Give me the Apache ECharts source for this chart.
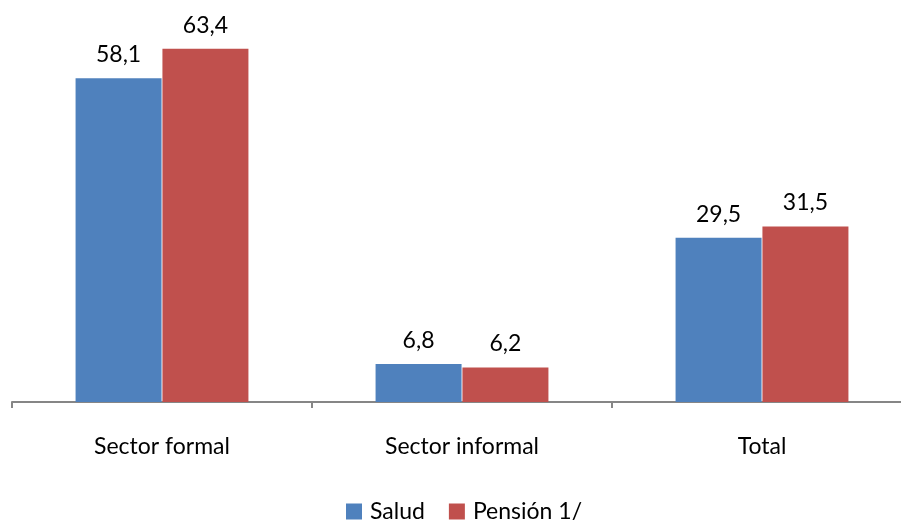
<!DOCTYPE html>
<html><head><meta charset="utf-8">
<script src="https://cdn.jsdelivr.net/npm/echarts@6/dist/echarts.min.js"></script>
<style>html,body{margin:0;padding:0;background:#fff;overflow:hidden}#c{width:920px;height:521px}</style>
</head><body><div id="c"></div>
<script>
const categories = ['Sector formal', 'Sector informal', 'Total'];
const salud = [58.1, 6.8, 29.5];
const pension = [63.4, 6.2, 31.5];
const seriesNames = ['Salud', 'Pensión 1/'];
const FONT = 'Lato';
const FS = 23;
const chart = echarts.init(document.getElementById('c'), null, {renderer: 'canvas'});
const lbl = {show: true, position: 'top', distance: 12, color: '#000', fontFamily: FONT, fontSize: FS,
  formatter: p => String(p.value).replace('.', ',')};
chart.setOption({
  animation: false,
  backgroundColor: '#fff',
  grid: {left: 12, width: 900, top: 12, height: 390, containLabel: false},
  legend: {left: 346, top: 500, padding: 0, itemWidth: 16, itemHeight: 16, itemGap: 24,
    icon: 'rect', textStyle: {fontFamily: FONT, fontSize: FS, color: '#000', padding: [0,0,0,3]},
    data: seriesNames},
  xAxis: {type: 'category', data: categories,
    axisLine: {lineStyle: {color: '#868686', width: 2}},
    axisTick: {show: true, length: 6, lineStyle: {color: '#868686', width: 2}},
    axisLabel: {fontFamily: FONT, fontSize: FS, color: '#000', margin: 33}},
  yAxis: {type: 'value', min: 0, max: 70, show: false, splitLine: {show: false}},
  series: [
    {name: seriesNames[0], type: 'bar', data: salud, barWidth: 86, barGap: '1%',
      itemStyle: {color: '#4F81BD'}, label: lbl},
    {name: seriesNames[1], type: 'bar', data: pension, barWidth: 86, barGap: '1%',
      itemStyle: {color: '#C0504D'}, label: lbl}
  ]
});
</script></body></html>
